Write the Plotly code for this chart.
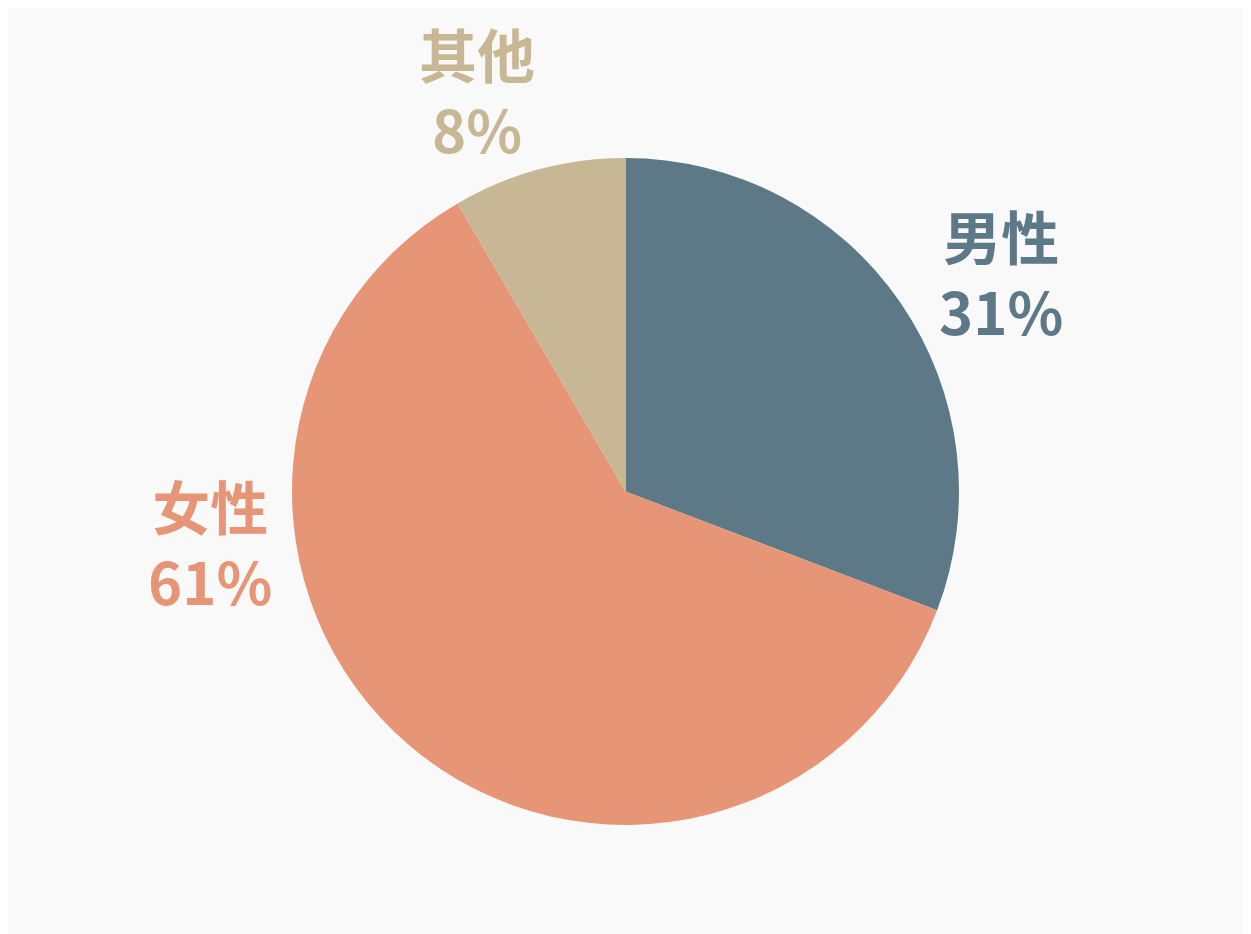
import math
import plotly.graph_objects as go

labels = ['男性', '女性', '其他']
values = [30.8, 60.8, 8.4]
colors = ['#5d7886', '#e69577', '#c8b795']

# where each label sits: angle clockwise from 12 o'clock, distance in pie radii
label_angle = [59.8, 263.0, -20.3]
label_dist = [1.303, 1.256, 1.281]

total = sum(values)

fig = go.Figure(go.Pie(
    labels=labels,
    values=values,
    sort=False,
    direction='clockwise',
    rotation=0,
    marker=dict(colors=colors, line=dict(width=0)),
    textinfo='none',
    showlegend=False,
    hoverinfo='label+percent',
))

for lab, v, c, a, d in zip(labels, values, colors, label_angle, label_dist):
    fig.add_annotation(
        x=0.5 + 0.5 * d * math.sin(math.radians(a)),
        y=0.5 + 0.5 * d * math.cos(math.radians(a)),
        xref='paper', yref='paper',
        text=f'{lab}<br>{round(v / total * 100)}%',
        showarrow=False,
        xanchor='center', yanchor='middle',
        font=dict(family='Noto Sans CJK SC', size=58, color=c, weight='bold'),
    )

fig.update_layout(
    width=1251, height=934,
    paper_bgcolor='#f9f9f9',
    plot_bgcolor='#f9f9f9',
    margin=dict(t=150, b=117, l=284, r=300),
)

fig.write_html('out.html')
